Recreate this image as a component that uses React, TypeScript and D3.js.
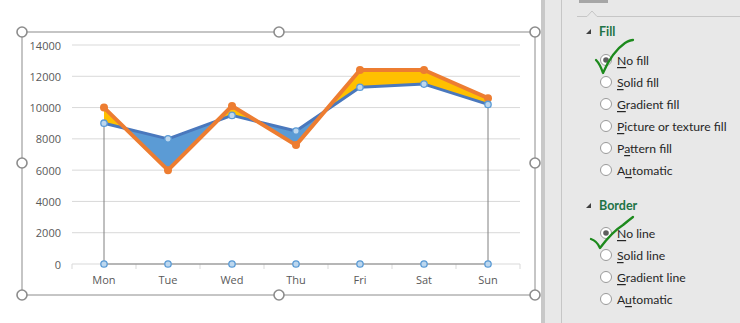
import React from "react";
import * as d3 from "d3";

const days = ["Mon", "Tue", "Wed", "Thu", "Fri", "Sat", "Sun"];
const orangeValues = [10000, 6000, 10100, 7600, 12400, 12400, 10600];
const blueValues = [9000, 8000, 9500, 8500, 11300, 11500, 10200];
const baseValues = [0, 0, 0, 0, 0, 0, 0];
const yTicks = [0, 2000, 4000, 6000, 8000, 10000, 12000, 14000];

const fillOptions = ["No fill", "Solid fill", "Gradient fill", "Picture or texture fill", "Pattern fill", "Automatic"];
const fillUnderline = [0, 0, 0, 0, 1, 1];
const borderOptions = ["No line", "Solid line", "Gradient line", "Automatic"];
const borderUnderline = [0, 0, 0, 1];

const FONT = "'Open Sans', 'Noto Sans', sans-serif";
const PFONT = "Lato, 'Open Sans', sans-serif";

function Label({ text, u, x, y }: { text: string; u: number; x: number; y: number }) {
  return (
    <text x={x} y={y} fontFamily={PFONT} fontSize={12.2} fill="#262626" dominantBaseline="central">
      {text.slice(0, u)}
      <tspan textDecoration="underline">{text[u]}</tspan>
      {text.slice(u + 1)}
    </text>
  );
}

export default function App() {
  const x = d3.scaleBand<string>().domain(days).range([72, 520]);
  const cx = (d: string) => (x(d) as number) + x.bandwidth() / 2;
  const y = d3.scaleLinear().domain([0, 14000]).range([264, 45]);

  const lineGen = d3.line<number>().x((_, i) => cx(days[i])).y((v) => y(v));
  const between = d3
    .area<number>()
    .x((_, i) => cx(days[i]))
    .y0((_, i) => y(blueValues[i]))
    .y1((v) => y(v));
  const aboveBlue = d3.area<number>().x((_, i) => cx(days[i])).y0(() => 0).y1((v) => y(v));
  const belowBlue = d3.area<number>().x((_, i) => cx(days[i])).y0(() => 323).y1((v) => y(v));

  const outline =
    `M${cx(days[0])},${y(baseValues[0])}L${cx(days[0])},${y(blueValues[0])}` +
    `M${cx(days[6])},${y(blueValues[6])}L${cx(days[6])},${y(baseValues[6])}` +
    (d3.line<number>().x((_, i) => cx(days[i])).y((v) => y(v))(baseValues) as string);

  const handles: [number, number][] = [
    [22, 32], [279, 32], [535, 32], [22, 163], [535, 163], [22, 295], [279, 295], [535, 295],
  ];

  const rowsFill = [60, 82, 104, 126, 148, 170];
  const rowsBorder = [233, 255, 277, 299];

  return (
    <svg width={740} height={323} style={{ position: "absolute", left: 0, top: 0 }}>
      <defs>
        <clipPath id="cAbove">
          <path d={aboveBlue(blueValues) as string} />
        </clipPath>
        <clipPath id="cBelow">
          <path d={belowBlue(blueValues) as string} />
        </clipPath>
      </defs>
      <rect width={740} height={323} fill="#ffffff" />

      {/* gridlines */}
      {yTicks.map((t) => (
        <line key={t} x1={72} x2={520} y1={y(t)} y2={y(t)} stroke="#D9D9D9" strokeWidth={1} />
      ))}
      {/* x axis ticks */}
      {d3.range(days.length + 1).map((i) => {
        const xx = 72 + i * x.bandwidth();
        return <line key={i} x1={xx} x2={xx} y1={264} y2={269} stroke="#D9D9D9" />;
      })}
      {yTicks.map((t) => (
        <text key={t} x={61} y={y(t)} textAnchor="end" dominantBaseline="central" fontFamily={FONT} fontSize={11} fill="#595959">
          {t}
        </text>
      ))}
      {days.map((d) => (
        <text key={d} x={cx(d)} y={279} textAnchor="middle" dominantBaseline="central" fontFamily={FONT} fontSize={11} fill="#595959">
          {d}
        </text>
      ))}

      {/* fills between series */}
      <path d={between(orangeValues) as string} fill="#FFC000" clipPath="url(#cAbove)" />
      <path d={between(orangeValues) as string} fill="#5B9BD5" clipPath="url(#cBelow)" />

      {/* selected transparent series outline */}
      <path d={outline} fill="none" stroke="#808080" strokeWidth={1} />

      <path d={lineGen(blueValues) as string} fill="none" stroke="#4A78BD" strokeWidth={3} strokeLinejoin="round" />
      <path d={lineGen(orangeValues) as string} fill="none" stroke="#ED7D31" strokeWidth={4} strokeLinejoin="round" />
      {orangeValues.map((v, i) => (
        <circle key={i} cx={cx(days[i])} cy={y(v)} r={4} fill="#ED7D31" />
      ))}
      {blueValues.map((v, i) => (
        <circle key={i} cx={cx(days[i])} cy={y(v)} r={3.2} fill="#BDD7EE" stroke="#5B9BD5" strokeWidth={1.3} />
      ))}
      {baseValues.map((v, i) => (
        <circle key={i} cx={cx(days[i])} cy={y(v)} r={3.2} fill="#BDD7EE" stroke="#5B9BD5" strokeWidth={1.3} />
      ))}

      {/* chart area selection frame */}
      <rect x={22} y={32} width={513} height={263} fill="none" stroke="#8C8C8C" strokeWidth={1} />
      {handles.map(([hx, hy], i) => (
        <circle key={i} cx={hx} cy={hy} r={5} fill="#ffffff" stroke="#8C8C8C" strokeWidth={1.6} />
      ))}

      {/* format panel */}
      <rect x={541} y={0} width={4} height={323} fill="#C8C8C8" />
      <rect x={545} y={0} width={195} height={323} fill="#E8E8E8" />
      <line x1={561.5} x2={561.5} y1={0} y2={323} stroke="#C6C6C6" />
      <rect x={579} y={0} width={29} height={3} fill="#A6A6A6" />
      <path d="M577,16.5 L587,16.5 L592,11 L597,16.5 L740,16.5" fill="none" stroke="#C6C6C6" />

      <path d="M586,34 L591,34 L591,29 Z" fill="#404040" />
      <text x={599} y={31} dominantBaseline="central" fontFamily={PFONT} fontSize={12.5} fontWeight="bold" fill="#217346">
        Fill
      </text>
      {fillOptions.map((o, i) => (
        <g key={o}>
          <circle cx={606} cy={rowsFill[i]} r={5.5} fill="#ffffff" stroke="#9A9A9A" />
          {i === 0 && <circle cx={606} cy={rowsFill[i]} r={2.8} fill="#5F5F5F" />}
          <Label text={o} u={fillUnderline[i]} x={617} y={rowsFill[i]} />
        </g>
      ))}

      <path d="M586,208 L591,208 L591,203 Z" fill="#404040" />
      <text x={599} y={205} dominantBaseline="central" fontFamily={PFONT} fontSize={12.5} fontWeight="bold" fill="#217346">
        Border
      </text>
      {borderOptions.map((o, i) => (
        <g key={o}>
          <circle cx={606} cy={rowsBorder[i]} r={5.5} fill="#ffffff" stroke="#9A9A9A" />
          {i === 0 && <circle cx={606} cy={rowsBorder[i]} r={2.8} fill="#5F5F5F" />}
          <Label text={o} u={borderUnderline[i]} x={617} y={rowsBorder[i]} />
        </g>
      ))}

      {/* green check marks */}
      <path d="M596,60 Q600,64 603,73 Q612,52 625,43 Q630,40 633,40" fill="none" stroke="#1D8A1D" strokeWidth={2.3} strokeLinecap="round" strokeLinejoin="round" />
      <path d="M591,239 Q597,241 600,248 Q612,232 623,225 Q629,220 633,217" fill="none" stroke="#1D8A1D" strokeWidth={2.3} strokeLinecap="round" strokeLinejoin="round" />
    </svg>
  );
}
